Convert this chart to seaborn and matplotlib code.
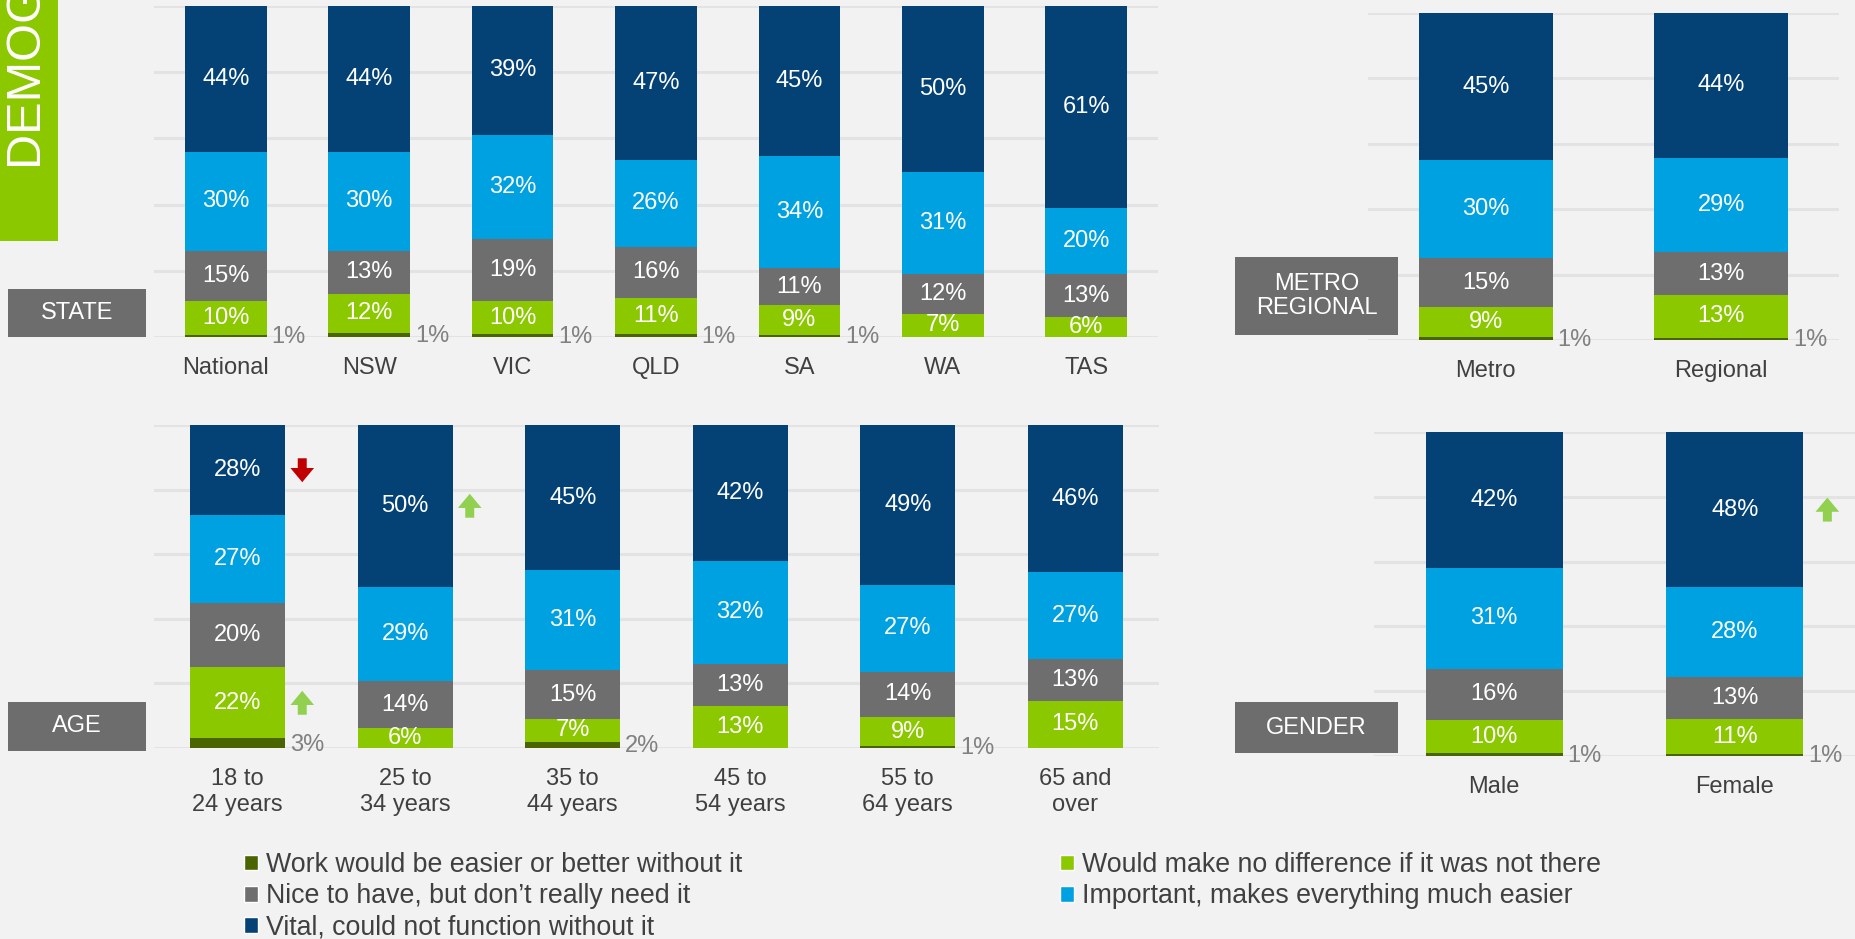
import numpy as np
import pandas as pd
import matplotlib
matplotlib.use("Agg")
import matplotlib.pyplot as plt
import seaborn as sns
from matplotlib.patches import Rectangle, Patch

# ---------------- data ----------------
segments = ["Work would be easier or better without it",
            "Would make no difference if it was not there",
            "Nice to have, but don\u2019t really need it",
            "Important, makes everything much easier",
            "Vital, could not function without it"]
seg_colors = ["#4A6500", "#8CC800", "#6E6E6E", "#00A1E0", "#044275"]

state_cats = ["National", "NSW", "VIC", "QLD", "SA", "WA", "TAS"]
state_worse = [0.7, 1.2, 0.8, 0.8, 0.6, 0.0, 0.0]
state_nodiff = [10.2, 11.8, 10.1, 10.9, 9.0, 7.0, 6.0]
state_nice = [15.0, 13.0, 18.6, 15.6, 11.1, 12.0, 13.0]
state_important = [30.1, 30.0, 31.6, 26.1, 34.0, 31.0, 20.0]
state_vital = [44.0, 44.0, 38.9, 46.6, 45.3, 50.0, 61.0]

metro_cats = ["Metro", "Regional"]
metro_worse = [0.8, 0.6]
metro_nodiff = [9.2, 13.2]
metro_nice = [15.0, 13.0]
metro_important = [30.0, 29.0]
metro_vital = [45.0, 44.2]

age_cats = ["18 to\n24 years", "25 to\n34 years", "35 to\n44 years",
            "45 to\n54 years", "55 to\n64 years", "65 and\nover"]
age_worse = [3.0, 0.0, 2.0, 0.0, 0.6, 0.0]
age_nodiff = [22.0, 6.3, 7.0, 13.0, 9.0, 14.6]
age_nice = [20.0, 14.3, 15.0, 13.0, 14.0, 13.0]
age_important = [27.0, 29.4, 31.0, 32.0, 27.0, 26.8]
age_vital = [28.0, 50.0, 45.0, 42.0, 49.4, 45.6]

gender_cats = ["Male", "Female"]
gender_worse = [0.8, 0.6]
gender_nodiff = [10.2, 10.8]
gender_nice = [16.0, 12.9]
gender_important = [31.0, 27.8]
gender_vital = [42.0, 47.9]

panel_titles = ["STATE", "METRO\nREGIONAL", "AGE", "GENDER"]
banner_text = "DEMOGRAPHICS"

# significance markers: (panel index, category index, segment index, direction)
sig_markers = [(2, 0, 4, "down"), (2, 1, 4, "up"), (2, 0, 1, "up"), (3, 1, 4, "up")]

# ---------------- style ----------------
sns.set_style("white")
plt.rcParams["font.family"] = ["Liberation Sans", "DejaVu Sans"]

W, H = 1855, 939
BG = "#F2F2F2"
fig = plt.figure(figsize=(W / 100, H / 100), dpi=100, facecolor=BG)


def fx(x):
    return x / W


def fy(y):
    return 1 - y / H


def add_axes_px(x0, y0, x1, y1):
    return fig.add_axes([fx(x0), fy(y1), (x1 - x0) / W, (y1 - y0) / H])


BAR_W = 0.57
FS = 17


def draw_panel(ax, cats, layers, markers):
    vals = np.array(layers, dtype=float)
    cum = np.cumsum(vals, axis=0) / 100.0
    n = len(cats)
    base = pd.DataFrame({"cat": cats})
    for k in range(len(layers) - 1, -1, -1):
        sns.barplot(data=base.assign(h=cum[k]), x="cat", y="h", order=cats,
                    color=seg_colors[k], saturation=1, width=BAR_W,
                    linewidth=0, errorbar=None, ax=ax, zorder=2)
    for i in range(n):
        for k in range(len(layers)):
            v = vals[k, i]
            bot = cum[k - 1, i] if k > 0 else 0.0
            top = cum[k, i]
            mid = (bot + top) / 2
            if k == 0:
                if v > 0:
                    ax.annotate(f"{v:.0f}%", xy=(i + BAR_W / 2, mid),
                                xytext=(3.5, -1), textcoords="offset points",
                                ha="left", va="center", color="#808080",
                                fontsize=FS, zorder=5, annotation_clip=False)
            else:
                ax.text(i, mid, f"{v:.0f}%", ha="center", va="center",
                        color="white", fontsize=FS, zorder=5, clip_on=False)
    for (ci, sk, d) in markers:
        bot = cum[sk - 1, ci] if sk > 0 else 0.0
        mid = (bot + cum[sk, ci]) / 2
        x = ci + BAR_W / 2 + 0.1
        dy = 0.037
        if d == "up":
            start, end, col = mid - dy, mid + dy, "#92D050"
        else:
            start, end, col = mid + dy, mid - dy, "#C00000"
        ax.annotate("", xy=(x, end), xytext=(x, start),
                    arrowprops=dict(arrowstyle="simple,head_length=0.6,head_width=1.0,tail_width=0.38",
                                    color=col, lw=0, mutation_scale=17,
                                    shrinkA=0, shrinkB=0),
                    annotation_clip=False, zorder=6)
    ax.set_xlim(-0.5, n - 0.5)
    ax.set_ylim(0, 1)
    ax.set_yticks([0, 0.2, 0.4, 0.6, 0.8, 1.0])
    ax.yaxis.grid(True, color="#E3E3E3", lw=2.2, zorder=0)
    ax.xaxis.grid(False)
    ax.set_axisbelow(True)
    ax.set_facecolor("none")
    for s in ax.spines.values():
        s.set_visible(False)
    ax.tick_params(left=False, labelleft=False, bottom=False,
                   labelsize=FS, labelcolor="#404040", pad=11)
    for t in ax.get_xticklabels():
        t.set_linespacing(1.25)
    ax.set_xlabel("")
    ax.set_ylabel("")


panels = [
    ((154, 6, 1158, 337), state_cats,
     [state_worse, state_nodiff, state_nice, state_important, state_vital]),
    ((1368, 13, 1839, 340), metro_cats,
     [metro_worse, metro_nodiff, metro_nice, metro_important, metro_vital]),
    ((154, 425, 1159, 748), age_cats,
     [age_worse, age_nodiff, age_nice, age_important, age_vital]),
    ((1374, 432, 1855, 756), gender_cats,
     [gender_worse, gender_nodiff, gender_nice, gender_important, gender_vital]),
]

for pi, (box, cats, layers) in enumerate(panels):
    ax = add_axes_px(*box)
    mk = [(c, s, d) for (p, c, s, d) in sig_markers if p == pi]
    draw_panel(ax, cats, layers, mk)

# ---------------- panel title boxes ----------------
title_boxes = [(8, 289, 146, 337), (1235, 257, 1398, 335),
               (8, 702, 146, 751), (1235, 702, 1398, 753)]
for (x0, y0, x1, y1), t in zip(title_boxes, panel_titles):
    fig.add_artist(Rectangle((fx(x0), fy(y1)), (x1 - x0) / W, (y1 - y0) / H,
                             transform=fig.transFigure, facecolor="#6D6D6D",
                             edgecolor="none", zorder=1))
    fig.text(fx((x0 + x1) / 2), fy((y0 + y1) / 2), t, ha="center", va="center",
             color="white", fontsize=FS, linespacing=1.15, zorder=2)

# ---------------- green banner ----------------
fig.add_artist(Rectangle((0, fy(241)), 58 / W, 241 / H, transform=fig.transFigure,
                         facecolor="#8CC800", edgecolor="none", zorder=1))
fig.text(fx(37), fy(165), banner_text, rotation=90, rotation_mode="anchor",
         ha="left", va="baseline", color="white", fontsize=35, zorder=2)

# ---------------- legend ----------------
leg_kw = dict(loc="upper left", frameon=False, fontsize=19.3, handlelength=0.52,
              handleheight=0.52, handletextpad=0.3, labelspacing=0.2,
              borderpad=0, borderaxespad=0, labelcolor="#404040")
left_idx = [0, 2, 4]
right_idx = [1, 3]
fig.legend([Patch(facecolor=seg_colors[i]) for i in left_idx],
           [segments[i] for i in left_idx], bbox_to_anchor=(fx(244), fy(852)), **leg_kw)
fig.legend([Patch(facecolor=seg_colors[i]) for i in right_idx],
           [segments[i] for i in right_idx], bbox_to_anchor=(fx(1060), fy(852)), **leg_kw)

fig.savefig("out.png", dpi=100, facecolor=BG)
